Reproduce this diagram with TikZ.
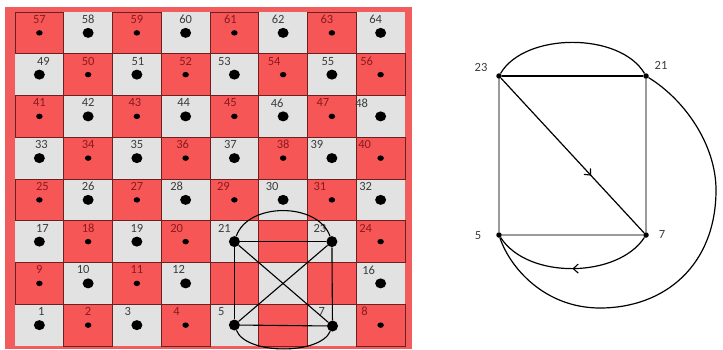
\documentclass[tikz,border=0pt]{standalone}
\usepackage{fontspec}
\setmainfont{Carlito}
\usetikzlibrary{arrows.meta,decorations.markings,shapes.geometric}
\definecolor{sqred}{RGB}{247,86,86}
\definecolor{framered}{RGB}{242,92,92}
\definecolor{sqgray}{RGB}{226,226,226}
\definecolor{sqedge}{RGB}{110,32,32}
\definecolor{numred}{RGB}{140,25,30}
\definecolor{numgray}{RGB}{60,60,60}
\definecolor{edgegray}{RGB}{155,155,155}
\def\offs{{2,0,-9,-9,-13,0,-10,-16,0,-5,0,-7,0,0,0,-12,3,0,0,-9,-10,0,-12,-15,3,0,0,-9,-11,-11,-12,-15,2,0,0,-3,-4,0,-15,-16,0,0,-2,-2,-4,-6,-9,-19,4,0,1,0,-10,-9,-4,-14,0,0,0,0,-4,-5,-5,-5}}
\begin{document}
\begin{tikzpicture}[x=1pt,y=-1pt,
  numlabel/.style={font=\fontsize{12.5}{12.5}\selectfont, inner sep=0pt, anchor=center},
  bigdot/.style={ellipse, fill=black, inner sep=0pt, minimum width=11pt, minimum height=10pt},
  smalldot/.style={ellipse, fill=black, inner sep=0pt, minimum width=6.5pt, minimum height=5.5pt},
  gnode/.style={circle, fill=black, inner sep=0pt, minimum size=11pt},
  rnode/.style={circle, fill=black, inner sep=0pt, minimum size=5.5pt},
  bedge/.style={black, line width=1.1pt},
  gedge/.style={edgegray, line width=1.3pt},
  redge/.style={black, line width=1.2pt},
  midarrow/.style={postaction={decorate}, decoration={markings, mark=at position #1 with {\arrow{Straight Barb[length=5pt,width=9pt,line width=1.1pt]}}}},
  glabel/.style={font=\fontsize{12.5}{12.5}\selectfont, text=numgray, inner sep=0pt}
]
\useasboundingbox (0,0) rectangle (723,349);
\fill[white] (0,0) rectangle (723,349);
% board frame
\fill[framered] (5,7) rectangle (412,349);
\fill[sqgray] (15,12) rectangle (405,346);
% red squares
\foreach \r in {0,...,7}{
  \foreach \c in {0,...,7}{
    \pgfmathsetmacro\xa{15+48.75*\c}
    \pgfmathsetmacro\ya{12+41.75*(7-\r)}
    \pgfmathtruncatemacro\isred{mod(\r+\c,2)}
    \ifnum\isred=1
      \filldraw[fill=sqred, draw=sqedge, line width=0.9pt] (\xa,\ya) rectangle ++(48.75,41.75);
    \fi
  }
}
% numbers and dots
\foreach \r in {0,...,7}{
  \foreach \c in {0,...,7}{
    \pgfmathtruncatemacro\n{8*\r+\c+1}
    \pgfmathtruncatemacro\isred{mod(\r+\c,2)}
    \pgfmathtruncatemacro\hid{(\n==6)+(\n==13)+(\n==14)+(\n==15)+(\n==22)}
    \pgfmathtruncatemacro\gn{(\n==5)+(\n==7)+(\n==21)+(\n==23)}
    \pgfmathsetmacro\cx{15+48.75*(\c+0.5)}
    \pgfmathsetmacro\cy{12+41.75*(7.5-\r)}
    \pgfmathsetmacro\dx{\offs[\n-1]}
    \ifnum\hid=0
      \ifnum\isred=1 \def\tc{numred}\else\def\tc{numgray}\fi
      \node[numlabel, text=\tc] (num\n) at (\cx+\dx,\cy-13.5) {\n};
      \ifnum\gn=0
        \ifnum\isred=1
          \node[smalldot] (dot\n) at (\cx,\cy) {};
        \else
          \node[bigdot] (dot\n) at (\cx,\cy) {};
        \fi
      \fi
    \fi
  }
}
% graph on the board
\node[gnode] (b21) at (234.4,241.6) {};
\node[gnode] (b23) at (331.9,241.6) {};
\node[gnode] (b5) at (234.4,325) {};
\node[gnode] (b7) at (332.5,326) {};
\draw[bedge] (b21) -- (b23);
\draw[bedge] (b23) -- (b7);
\draw[bedge] (b7) -- (b5);
\draw[bedge] (b5) -- (b21);
\draw[bedge] (b21) -- (b7);
\draw[bedge] (b23) -- (b5);
\draw[bedge] (b21) .. controls (248,202) and (318,202) .. (b23);
\draw[bedge] (b5) .. controls (246,355) and (320,355) .. (b7);
% right graph
\node[rnode] (r23) at (499,76) {};
\node[rnode] (r21) at (646,76) {};
\node[rnode] (r5) at (499,235) {};
\node[rnode] (r7) at (646,235) {};
\node[glabel] (l23) at (481,67) {23};
\node[glabel] (l21) at (661,65) {21};
\node[glabel] (l5) at (478,236) {5};
\node[glabel] (l7) at (662,234) {7};
\draw[gedge] (r23) -- (r5);
\draw[gedge] (r21) -- (r7);
\draw[gedge] (r5) -- (r7);
\draw[redge] (r23) -- (r21);
\draw[redge, midarrow=0.63] (r23) -- (r7);
\draw[redge] (r23) .. controls (525,32) and (620,32) .. (r21);
\draw[redge] (r21) .. controls (685,100) and (716,145) .. (716,190) .. controls (716,265) and (665,308) .. (600,308) .. controls (545,308) and (510,268) .. (r5);
\draw[redge, midarrow=0.5] (r7) .. controls (618,278) and (528,280) .. (r5);
\end{tikzpicture}
\end{document}
